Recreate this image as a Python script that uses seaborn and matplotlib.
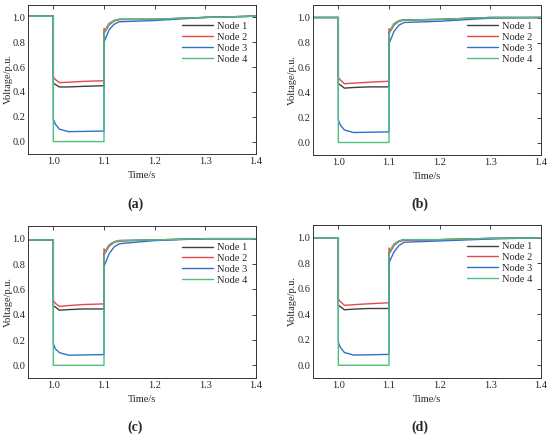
import matplotlib
matplotlib.use("Agg")
import matplotlib.pyplot as plt
import seaborn as sns

sns.set_style("white")
plt.rcParams["font.family"] = ["Liberation Serif", "DejaVu Serif"]
plt.rcParams["font.size"] = 7.5

# time axes (s)
t_node = [0.95, 1.0, 1.0, 1.004, 1.012, 1.03, 1.06, 1.1, 1.1, 1.103, 1.11, 1.12, 1.13, 1.2, 1.3, 1.4]
t_node4 = [0.95, 1.0, 1.0, 1.1, 1.1, 1.105, 1.11, 1.12, 1.13, 1.2, 1.3, 1.4]

# panel (a)
node1_a = [1.01, 1.01, 0.47, 0.46, 0.44, 0.44, 0.445, 0.45, 0.88, 0.90, 0.95, 0.975, 0.985, 0.985, 1.0, 1.01]
node2_a = [1.01, 1.01, 0.52, 0.50, 0.475, 0.478, 0.485, 0.49, 0.91, 0.89, 0.94, 0.97, 0.982, 0.985, 1.0, 1.01]
node3_a = [1.01, 1.01, 0.18, 0.14, 0.10, 0.08, 0.082, 0.085, 0.80, 0.83, 0.90, 0.945, 0.965, 0.975, 1.0, 1.01]
node4_a = [1.01, 1.01, 0.0, 0.0, 0.86, 0.92, 0.95, 0.975, 0.985, 0.985, 1.0, 1.01]

# panel (b)
node1_b = [1.0, 1.0, 0.47, 0.46, 0.435, 0.44, 0.445, 0.445, 0.88, 0.90, 0.95, 0.975, 0.98, 0.985, 1.0, 1.0]
node2_b = [1.0, 1.0, 0.52, 0.50, 0.47, 0.475, 0.482, 0.49, 0.91, 0.89, 0.94, 0.97, 0.978, 0.985, 1.0, 1.0]
node3_b = [1.0, 1.0, 0.18, 0.14, 0.10, 0.08, 0.082, 0.085, 0.79, 0.82, 0.89, 0.94, 0.96, 0.97, 0.995, 1.0]
node4_b = [1.0, 1.0, 0.0, 0.0, 0.86, 0.92, 0.95, 0.975, 0.98, 0.985, 1.0, 1.0]

# panel (c)
node1_c = [0.99, 0.99, 0.47, 0.46, 0.435, 0.44, 0.445, 0.445, 0.88, 0.90, 0.95, 0.975, 0.985, 0.99, 1.0, 1.0]
node2_c = [0.99, 0.99, 0.51, 0.49, 0.465, 0.472, 0.48, 0.485, 0.92, 0.89, 0.94, 0.97, 0.98, 0.99, 1.0, 1.0]
node3_c = [0.99, 0.99, 0.17, 0.13, 0.10, 0.08, 0.082, 0.085, 0.78, 0.81, 0.88, 0.935, 0.96, 0.985, 1.0, 1.0]
node4_c = [0.99, 0.99, 0.0, 0.0, 0.86, 0.92, 0.95, 0.975, 0.985, 0.99, 1.0, 1.0]

# panel (d)
node1_d = [1.0, 1.0, 0.47, 0.46, 0.435, 0.44, 0.445, 0.445, 0.88, 0.90, 0.95, 0.975, 0.985, 0.985, 0.995, 1.0]
node2_d = [1.0, 1.0, 0.52, 0.50, 0.47, 0.475, 0.482, 0.49, 0.92, 0.89, 0.94, 0.97, 0.98, 0.985, 0.995, 1.0]
node3_d = [1.0, 1.0, 0.18, 0.14, 0.10, 0.08, 0.082, 0.085, 0.80, 0.83, 0.89, 0.94, 0.965, 0.975, 0.99, 1.0]
node4_d = [1.0, 1.0, 0.0, 0.0, 0.86, 0.92, 0.95, 0.975, 0.985, 0.985, 0.995, 1.0]

panels = {
    "a": [node1_a, node2_a, node3_a, node4_a],
    "b": [node1_b, node2_b, node3_b, node4_b],
    "c": [node1_c, node2_c, node3_c, node4_c],
    "d": [node1_d, node2_d, node3_d, node4_d],
}
labels = ["Node 1", "Node 2", "Node 3", "Node 4"]
colors = ["#3f3f3f", "#e8474a", "#2f6fd0", "#4fbf7f"]

W, H = 550, 437
# axes boxes in pixels: left, top, right, bottom
boxes = {
    "a": (28, 5, 256, 154),
    "b": (313, 5, 541, 155),
    "c": (28, 226, 256, 378),
    "d": (313, 225, 541, 378),
}
ylabel_x = {"a": 12.5, "b": 296.5, "c": 12.5, "d": 296.5}
tag_pos = {"a": (135, 204), "b": (420, 204), "c": (135, 427), "d": (420, 427)}

fig = plt.figure(figsize=(W / 100, H / 100), dpi=100)
for key, series in panels.items():
    l, t, r, b = boxes[key]
    ax = fig.add_axes([l / W, 1 - b / H, (r - l) / W, (b - t) / H])
    for i, (vals, lab, col) in enumerate(zip(series, labels, colors)):
        tx = t_node4 if i == 3 else t_node
        sns.lineplot(x=tx, y=vals, ax=ax, color=col, label=lab, lw=1.0,
                     estimator=None, sort=False)
    ax.set_xlim(0.95, 1.4)
    ax.set_ylim(-0.1, 1.1)
    ax.set_xticks([1.0, 1.1, 1.2, 1.3, 1.4])
    ax.set_yticks([0.0, 0.2, 0.4, 0.6, 0.8, 1.0])
    ax.xaxis.set_major_formatter(matplotlib.ticker.FormatStrFormatter("%.1f"))
    ax.yaxis.set_major_formatter(matplotlib.ticker.FormatStrFormatter("%.1f"))
    ax.tick_params(direction="in", length=3, width=0.6, labelsize=7.5,
                   top=True, right=True, pad=2)
    for sp in ax.spines.values():
        sp.set_linewidth(0.7)
        sp.set_color("#333333")
    ax.set_xlabel("Time/s", fontsize=7.5, labelpad=4)
    ax.set_ylabel("Voltage/p.u.", fontsize=7.5)
    ax.yaxis.set_label_coords((ylabel_x[key] - l) / (r - l), 0.5)
    ax.legend(loc="upper right", bbox_to_anchor=(0.99, 0.93), frameon=False,
              fontsize=7.5, handlelength=3.0, handletextpad=0.4,
              labelspacing=0.15, borderaxespad=0.2)
    fig.text(tag_pos[key][0] / W, 1 - tag_pos[key][1] / H, f"({key})",
             ha="center", va="center", fontsize=10, fontweight="bold")

fig.savefig("out.png", dpi=100)
